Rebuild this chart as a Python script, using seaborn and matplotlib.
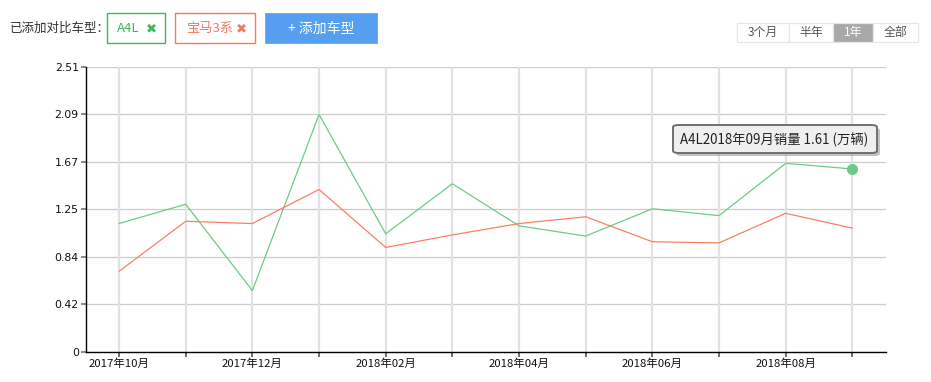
import matplotlib
matplotlib.use("Agg")
import matplotlib.pyplot as plt
import seaborn as sns
import pandas as pd
from matplotlib.patches import Rectangle, FancyBboxPatch

months = ["2017年10月", "2017年11月", "2017年12月", "2018年01月", "2018年02月", "2018年03月",
          "2018年04月", "2018年05月", "2018年06月", "2018年07月", "2018年08月", "2018年09月"]
a4l = [1.13, 1.30, 0.54, 2.09, 1.04, 1.48, 1.11, 1.02, 1.26, 1.20, 1.66, 1.61]
bmw3 = [0.71, 1.15, 1.13, 1.43, 0.92, 1.03, 1.13, 1.19, 0.97, 0.96, 1.22, 1.09]
series_names = ["A4L", "宝马3系"]
ytick_labels = ["0", "0.42", "0.84", "1.25", "1.67", "2.09", "2.51"]
range_buttons = ["3个月", "半年", "1年", "全部"]

GREEN = "#6dcb86"
RED = "#fb7f66"

sns.set_theme(style="white")
plt.rcParams['font.family'] = ['Noto Sans CJK SC', 'DejaVu Sans']

W, H = 931, 382
fig = plt.figure(figsize=(W / 100, H / 100), dpi=100)
ax = fig.add_axes([85.7 / W, 1 - 352 / H, 800 / W, (352 - 66.7) / H])

df = pd.DataFrame({
    "idx": list(range(len(months))) * 2,
    "value": a4l + bmw3,
    "car": [series_names[0]] * len(months) + [series_names[1]] * len(months),
})
sns.lineplot(data=df, x="idx", y="value", hue="car", palette=[GREEN, RED],
             linewidth=0.9, ax=ax, legend=False, zorder=3)
last = df[(df.car == series_names[0]) & (df.idx == len(months) - 1)]
sns.scatterplot(data=last, x="idx", y="value", color=GREEN, s=55, edgecolor=GREEN,
                ax=ax, legend=False, zorder=4)

ax.set_xlim(-0.5, len(months) - 0.5)
ymax = 2.51
ax.set_ylim(0, ymax)
ypos = [ymax * i / 6 for i in range(7)]
ax.set_yticks(ypos)
ax.set_yticklabels(ytick_labels, fontsize=7.8, color="#111", family=['DejaVu Sans'])
ax.set_xticks(range(len(months)))
ax.set_xticklabels([m if i % 2 == 0 else "" for i, m in enumerate(months)], fontsize=8.2, color="#111")
ax.set_xlabel("")
ax.set_ylabel("")

for y in ypos:
    ax.axhline(y, color="#cccccc", lw=0.9, zorder=1)
for i in range(len(months)):
    ax.axvline(i, color="#e2e2e2", lw=1.6, zorder=1)

for s in ["top", "right"]:
    ax.spines[s].set_visible(False)
for s in ["left", "bottom"]:
    ax.spines[s].set_color("black")
    ax.spines[s].set_linewidth(1.0)
ax.tick_params(axis="y", length=3.5, width=1.2, color="#777", pad=1.5, left=True)
ax.tick_params(axis="x", length=3.5, width=1.2, color="#555", pad=1.0, bottom=True)

def fx(x):
    return x / W

def fy(y):
    return 1 - y / H

def rect(x0, y0, x1, y1, **kw):
    p = Rectangle((fx(x0), fy(y1)), (x1 - x0) / W, (y1 - y0) / H, transform=fig.transFigure, **kw)
    fig.add_artist(p)
    return p

# header
fig.text(fx(10), fy(28), "已添加对比车型：", fontsize=9, color="#333", va="center", ha="left")
rect(107, 13, 165, 43, fc="white", ec="#3db85b", lw=1.0)
fig.text(fx(117), fy(28.5), "A4L", fontsize=9.5, color="#3db85b", va="center", ha="left")
fig.text(fx(151), fy(29), "✖", fontsize=9.5, color="#3db85b", va="center", ha="center", family=['DejaVu Sans'])
rect(175, 13, 255, 43, fc="white", ec="#f27a5e", lw=1.0)
fig.text(fx(186), fy(28.5), "宝马3系", fontsize=9.5, color="#f27a5e", va="center", ha="left")
fig.text(fx(241), fy(29), "✖", fontsize=9.5, color="#f27a5e", va="center", ha="center", family=['DejaVu Sans'])
rect(265, 13, 377, 43, fc="#569ff0", ec="#569ff0", lw=0.5)
fig.text(fx(321), fy(28.5), "+ 添加车型", fontsize=10, color="white", va="center", ha="center")

# range buttons
bx = [737, 789, 833, 873, 918]
for i, lab in enumerate(range_buttons):
    active = (lab == "1年")
    rect(bx[i], 23, bx[i + 1], 42, fc="#a8a8a8" if active else "white", ec="#e6e6e6", lw=0.9)
    fig.text(fx((bx[i] + bx[i + 1]) / 2), fy(32.5), lab, fontsize=8.6, ha="center", va="center",
             color="white" if active else "#555")

# tooltip
shadow = FancyBboxPatch((fx(676), fy(156)), (877 - 673) / W, (153 - 125) / H,
                        boxstyle="round,pad=0,rounding_size=0.006", transform=fig.transFigure,
                        fc="#9a9a9a", ec="none", alpha=0.6)
fig.add_artist(shadow)
box = FancyBboxPatch((fx(673), fy(153)), (877 - 673) / W, (153 - 125) / H,
                     boxstyle="round,pad=0,rounding_size=0.006", transform=fig.transFigure,
                     fc="#efefef", ec="#6f6f6f", lw=1.4)
fig.add_artist(box)
fig.text(fx(680), fy(139.5), f"{series_names[0]}{months[-1]}销量 {a4l[-1]:.2f} (万辆)",
         fontsize=9.6, color="#222", ha="left", va="center")

fig.savefig("out.png", dpi=100)
